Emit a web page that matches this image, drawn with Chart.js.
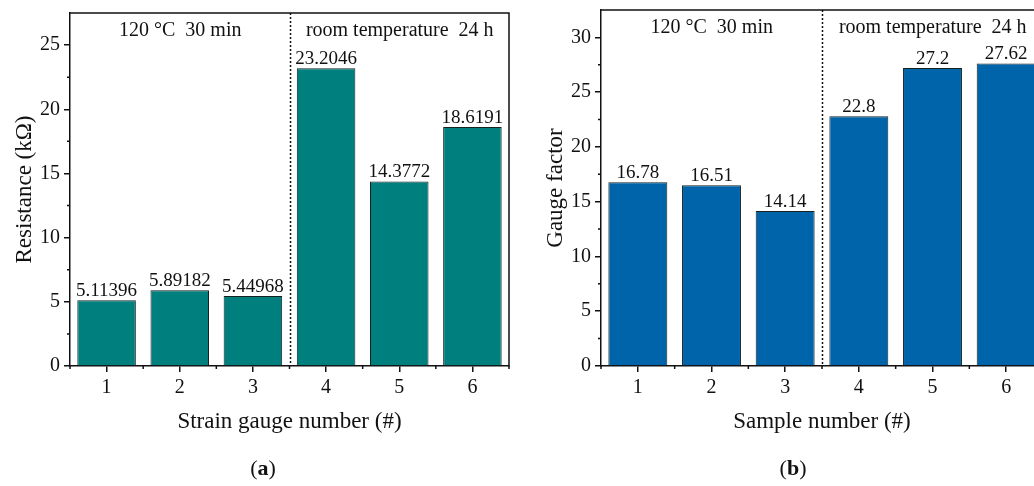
<!DOCTYPE html>
<html>
<head>
<meta charset="utf-8">
<script src="https://cdn.jsdelivr.net/npm/chart.js@4/dist/chart.umd.min.js"></script>
<style>
  body { margin: 0; width: 1034px; height: 486px; overflow: hidden; position: relative; background: #fff; }
  canvas { position: absolute; top: 0; }
  #chartA { left: 0; }
  #chartB { left: 520px; }
  .cap { position: absolute; top: 455px; font: 22px "Liberation Serif", serif; color: #111; transform: translateX(-50%); }
</style>
</head>
<body>
<canvas id="chartA" width="520" height="486" style="width:520px;height:486px"></canvas>
<canvas id="chartB" width="540" height="486" style="width:540px;height:486px"></canvas>
<div class="cap" style="left:263px">(<b>a</b>)</div>
<div class="cap" style="left:793px">(<b>b</b>)</div>
<script>
// data
const gaugeNumbers = ["1", "2", "3", "4", "5", "6"];
const resistance = [5.11396, 5.89182, 5.44968, 23.2046, 14.3772, 18.6191];
const sampleNumbers = ["1", "2", "3", "4", "5", "6"];
const gaugeFactor = [16.78, 16.51, 14.14, 22.8, 27.2, 27.62];
const conditions = ["120 °C  30 min", "room temperature  24 h"];

const SERIF = '"Liberation Serif", "Times New Roman", serif';
const INK = "#111";

// frame, divider, minor ticks, condition texts and bar values
const extras = {
  id: "extras",
  afterDraw(chart) {
    const { ctx, chartArea: a, scales: { x, y } } = chart;
    ctx.save();
    ctx.strokeStyle = INK;

    // top and right frame
    ctx.lineWidth = 1.5;
    ctx.beginPath();
    ctx.moveTo(a.left, a.top);
    ctx.lineTo(a.right, a.top);
    ctx.lineTo(a.right, a.bottom);
    ctx.stroke();

    // minor ticks
    ctx.beginPath();
    for (let i = -0.5; i <= 5.5; i += 1) {
      const px = x.getPixelForValue(i);
      ctx.moveTo(px, a.bottom);
      ctx.lineTo(px, a.bottom + 3);
    }
    for (let v = 2.5; v < y.max; v += 5) {
      const py = y.getPixelForValue(v);
      ctx.moveTo(a.left, py);
      ctx.lineTo(a.left - 3, py);
    }
    ctx.stroke();

    // dashed divider between the two groups
    const xd = Math.round(x.getPixelForValue(2.5)) + 0.5;
    ctx.setLineDash([2, 2]);
    ctx.beginPath();
    ctx.moveTo(xd, a.top);
    ctx.lineTo(xd, a.bottom);
    ctx.stroke();
    ctx.setLineDash([]);

    // condition labels
    ctx.fillStyle = INK;
    ctx.font = "20px " + SERIF;
    ctx.textAlign = "center";
    ctx.textBaseline = "middle";
    ctx.fillText(conditions[0], (a.left + xd) / 2, a.top + 18);
    ctx.fillText(conditions[1], (xd + a.right) / 2, a.top + 18);

    // values above bars
    ctx.font = "19px " + SERIF;
    ctx.textBaseline = "alphabetic";
    const meta = chart.getDatasetMeta(0);
    const vals = chart.data.datasets[0].data;
    meta.data.forEach((bar, i) => {
      ctx.fillText(String(vals[i]), bar.x, bar.y - 4);
    });
    ctx.restore();
  }
};

function makeChart(id, labels, values, color, xTitle, yTitle, yMax, pad, yWidth, yTitlePad) {
  return new Chart(document.getElementById(id), {
    type: "bar",
    data: {
      labels: labels,
      datasets: [{
        data: values,
        backgroundColor: color,
        borderColor: "#15201f",
        borderWidth: 1,
        categoryPercentage: 1,
        barPercentage: 0.8
      }]
    },
    options: {
      responsive: false,
      animation: false,
      devicePixelRatio: 1,
      layout: { padding: pad },
      plugins: { legend: { display: false }, tooltip: { enabled: false } },
      scales: {
        x: {
          grid: { display: true, drawOnChartArea: false, offset: false, color: INK, lineWidth: 1.5, tickLength: 6 },
          border: { display: true, color: INK, width: 1.5 },
          ticks: { color: INK, font: { family: SERIF, size: 20 }, padding: 4 },
          title: { display: true, text: xTitle, color: INK, font: { family: SERIF, size: 23 }, padding: { top: 0, bottom: 0 } },
          afterFit: (s) => { s.height = 70; s.paddingLeft = 0; s.paddingRight = 0; }
        },
        y: {
          min: 0,
          max: yMax,
          ticks: { stepSize: 5, color: INK, font: { family: SERIF, size: 20 }, padding: 4 },
          grid: { display: true, drawOnChartArea: false, color: INK, lineWidth: 1.5, tickLength: 6 },
          border: { display: true, color: INK, width: 1.5 },
          title: { display: true, text: yTitle, color: INK, font: { family: SERIF, size: 23 }, padding: { top: yTitlePad, bottom: 0 } },
          afterBuildTicks: (s) => { s.ticks = s.ticks.filter((t) => t.value % 5 === 0); },
          afterFit: (s) => { s.width = yWidth; s.paddingTop = 0; s.paddingBottom = 0; }
        }
      }
    },
    plugins: [extras]
  });
}

makeChart("chartA", gaugeNumbers, resistance, "#007f7f",
  "Strain gauge number (#)", "Resistance (kΩ)", 27.5,
  { top: 13, right: 11, bottom: 50, left: 0 }, 70, 11);

makeChart("chartB", sampleNumbers, gaugeFactor, "#0064aa",
  "Sample number (#)", "Gauge factor", 32.5,
  { top: 10, right: 17, bottom: 50, left: 0 }, 81, 22);
</script>
</body>
</html>
